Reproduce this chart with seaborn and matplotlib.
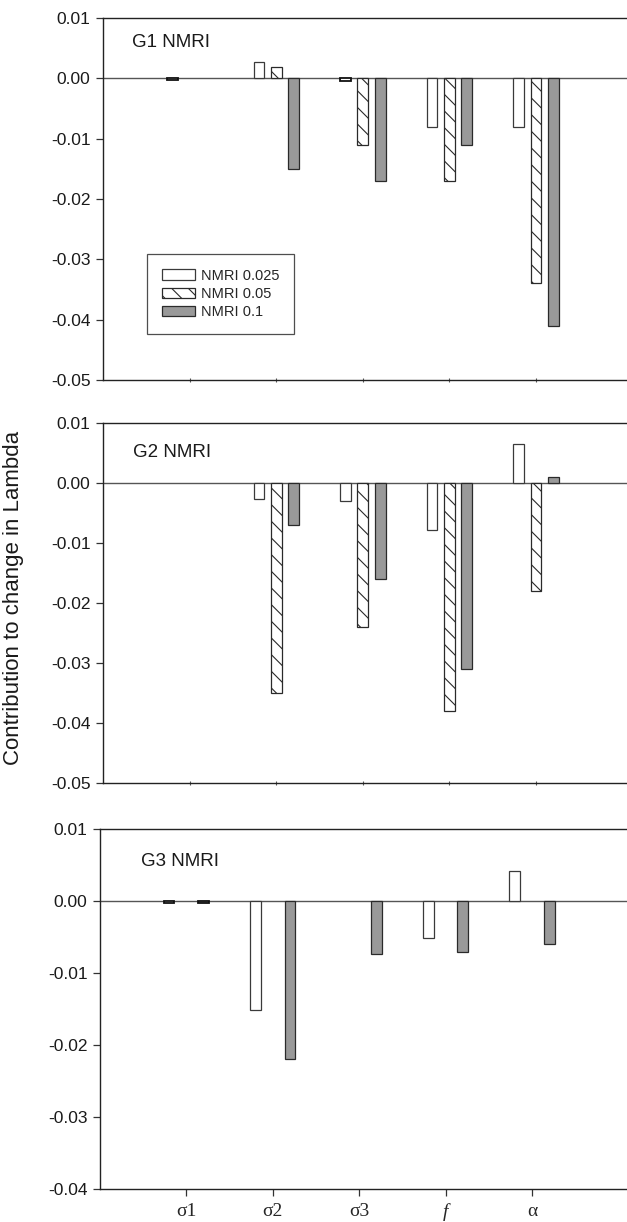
import numpy as np
import pandas as pd
import matplotlib
matplotlib.use("Agg")
import matplotlib.pyplot as plt
from matplotlib.patches import Patch
from matplotlib.colors import to_hex
import seaborn as sns

# ---- data ----
params = ["σ1", "σ2", "σ3", "f", "α"]
series = ["NMRI 0.025", "NMRI 0.05", "NMRI 0.1"]

g1_025 = [-0.0003, 0.0027, -0.0004, -0.0080, -0.0080]
g1_05 = [np.nan, 0.0019, -0.0110, -0.0170, -0.0340]
g1_1 = [np.nan, -0.0150, -0.0170, -0.0110, -0.0410]

g2_025 = [np.nan, -0.0027, -0.0030, -0.0078, 0.0065]
g2_05 = [np.nan, -0.0350, -0.0240, -0.0380, -0.0180]
g2_1 = [np.nan, -0.0070, -0.0160, -0.0310, 0.0009]

g3_025 = [-0.0003, -0.0151, np.nan, -0.0051, 0.0042]
g3_05 = [np.nan, np.nan, np.nan, np.nan, np.nan]
g3_1 = [-0.0003, -0.0220, -0.0074, -0.0071, -0.0060]

panel_titles = ["G1 NMRI", "G2 NMRI", "G3 NMRI"]
yticks_12 = [0.01, 0.00, -0.01, -0.02, -0.03, -0.04, -0.05]
yticks_3 = [0.01, 0.00, -0.01, -0.02, -0.03, -0.04]


def make_df(a, b, c):
    rows = []
    for s, vals in zip(series, [a, b, c]):
        for p, v in zip(params, vals):
            if not np.isnan(v):
                rows.append({"param": p, "series": s, "value": v})
    return pd.DataFrame(rows)


panels = [make_df(g1_025, g1_05, g1_1),
          make_df(g2_025, g2_05, g2_1),
          make_df(g3_025, g3_05, g3_1)]

sns.set_style("white")
plt.rcParams["font.family"] = ["Liberation Sans", "DejaVu Sans"]
plt.rcParams["axes.unicode_minus"] = False
plt.rcParams["hatch.linewidth"] = 0.8
plt.rcParams["hatch.color"] = "#222222"

# placeholder colours identify each series; real styles applied after drawing
palette = {"NMRI 0.025": "#ffffff", "NMRI 0.05": "#fefefe", "NMRI 0.1": "#999999"}
styles = {
    "#ffffff": dict(facecolor="white", edgecolor="#3a3a3a", hatch=None),
    "#fefefe": dict(facecolor="white", edgecolor="#2a2a2a", hatch="\\\\"),
    "#999999": dict(facecolor="#999999", edgecolor="#2a2a2a", hatch=None),
}

fig = plt.figure(figsize=(6.27, 12.22), dpi=100)
W, H = 627.0, 1222.0
rects = [
    [103 / W, 1 - 380 / H, 524 / W, 362 / H],
    [103 / W, 1 - 782.7 / H, 524 / W, 360 / H],
    [100 / W, 1 - 1189 / H, 527 / W, 360 / H],
]
xlims = [(-1.0, 5.05), (-1.0, 5.05), (-1.0, 5.1)]
ylims = [(-0.05, 0.01), (-0.05, 0.01), (-0.04, 0.01)]
title_pos = [(-0.67, 0.0059), (-0.65, 0.0050), (-0.53, 0.0055)]

axes = []
for i, df in enumerate(panels):
    ax = fig.add_axes(rects[i])
    axes.append(ax)
    sns.barplot(data=df, x="param", y="value", hue="series",
                order=params, hue_order=series, palette=palette,
                width=0.6, gap=0.38, legend=False, ax=ax, saturation=1,
                errorbar=None, linewidth=0.9)
    for bar in ax.patches:
        key = to_hex(bar.get_facecolor())
        st = styles.get(key)
        if st is None:
            continue
        bar.set_facecolor(st["facecolor"])
        bar.set_edgecolor(st["edgecolor"])
        bar.set_linewidth(0.9)
        if st["hatch"]:
            bar.set_hatch(st["hatch"])
        if abs(bar.get_height()) < 0.0005 and bar.get_height() < 0:
            bar.set_edgecolor("#111111")
            bar.set_linewidth(1.3)
    ax.axhline(0, color="#555555", lw=1.0, zorder=0.5)
    ax.set_xlim(*xlims[i])
    ax.set_ylim(*ylims[i])
    yt = yticks_12 if i < 2 else yticks_3
    ax.set_yticks(yt)
    ax.set_yticklabels([f"{v:.2f}" for v in yt], fontsize=12.5)
    ax.set_xlabel("")
    ax.set_ylabel("")
    for side in ["left", "top", "bottom"]:
        ax.spines[side].set_visible(True)
        ax.spines[side].set_color("#222222")
        ax.spines[side].set_linewidth(1.0)
    ax.spines["right"].set_visible(False)
    ax.tick_params(axis="y", direction="out", length=5, width=0.9,
                   color="#333333", left=True, pad=4, labelcolor="#1a1a1a")
    ax.text(title_pos[i][0], title_pos[i][1], panel_titles[i],
            fontsize=13.5, ha="left", va="center", color="#1a1a1a")
    if i < 2:
        ax.tick_params(axis="x", direction="inout", length=3, width=0.8,
                       color="#555555", bottom=True, labelbottom=False)
    else:
        ax.tick_params(axis="x", direction="out", length=5, width=0.9,
                       color="#333333", bottom=True, pad=5)
        for lab in ax.get_xticklabels():
            lab.set_fontfamily(["Liberation Serif", "DejaVu Serif"])
            lab.set_fontsize(14)
            if lab.get_text() == "f":
                lab.set_fontstyle("italic")

# legend in first panel
handles = [Patch(facecolor=st["facecolor"], edgecolor=st["edgecolor"],
                 hatch=st["hatch"], linewidth=0.9, label=s)
           for s, st in zip(series, styles.values())]
leg = axes[0].legend(handles=handles, loc="lower left",
                     bbox_to_anchor=(0.084, 0.127), borderaxespad=0,
                     fontsize=10.5, frameon=True, fancybox=False,
                     handlelength=2.3, handleheight=0.7, labelspacing=0.3,
                     handletextpad=0.4, borderpad=1.0)
leg.get_frame().set_edgecolor("#222222")
leg.get_frame().set_linewidth(0.9)

fig.text(0.022, 0.511, "Contribution to change in Lambda", rotation=90,
         ha="center", va="center", fontsize=16, color="#1a1a1a")

fig.savefig("out.png", dpi=100)
